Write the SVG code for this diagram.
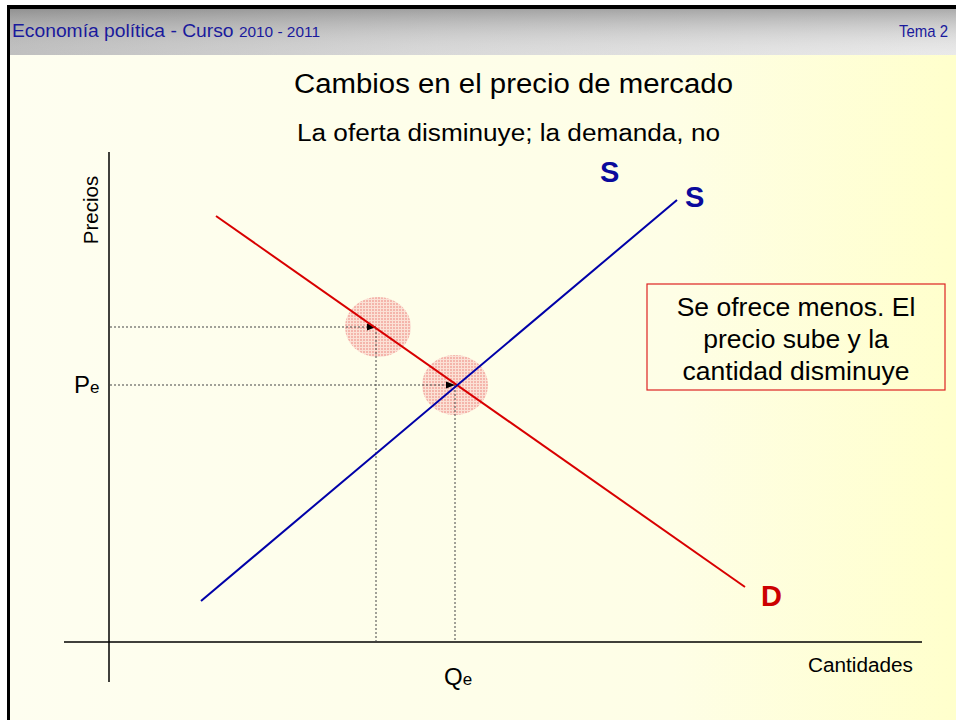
<svg xmlns="http://www.w3.org/2000/svg" width="956" height="720" viewBox="0 0 956 720">
<defs>
<linearGradient id="bg" x1="0" y1="0" x2="1" y2="0">
<stop offset="0" stop-color="#fefef0"/>
<stop offset="0.7" stop-color="#fefee6"/>
<stop offset="1" stop-color="#ffffcc"/>
</linearGradient>
<linearGradient id="hdrH" x1="0" y1="0" x2="1" y2="0">
<stop offset="0" stop-color="#b4b4b4"/>
<stop offset="0.45" stop-color="#d2d2d2"/>
<stop offset="1" stop-color="#e6e6e6"/>
</linearGradient>
<linearGradient id="hdrV" x1="0" y1="0" x2="0" y2="1">
<stop offset="0" stop-color="#707070" stop-opacity="0.5"/>
<stop offset="1" stop-color="#ffffff" stop-opacity="0.15"/>
</linearGradient>
<marker id="arr" viewBox="0 0 10 10" refX="10" refY="5" markerWidth="9" markerHeight="9" markerUnits="userSpaceOnUse" orient="auto">
<path d="M0,1 L10,5 L0,9 Z" fill="#000"/>
</marker>
<pattern id="dots" width="3" height="3" patternUnits="userSpaceOnUse">
<rect width="3" height="3" fill="#f9d4cc"/>
<rect width="2" height="2" fill="#ef9690"/>
</pattern>
<style>
text{font-family:"Liberation Sans",Arial,sans-serif;}
.dot{stroke:#444;stroke-width:1;stroke-dasharray:2,2;fill:none;}
.axis{stroke:#000;stroke-width:1.5;fill:none;}
.hl{fill:url(#dots);opacity:0.7;}
.lbl{font-size:29px;font-weight:bold;}
.note{font-size:26.5px;fill:#000;}
</style>
</defs>
<rect x="0" y="0" width="956" height="720" fill="#ffffff"/>
<rect x="10" y="9" width="946" height="711" fill="url(#bg)"/>
<g id="header">
<rect x="10" y="9" width="946" height="46" fill="url(#hdrH)"/>
<rect x="10" y="9" width="946" height="46" fill="url(#hdrV)"/>
<text x="12" y="37" font-size="17.5" fill="#1a1a9c" textLength="308" lengthAdjust="spacingAndGlyphs">Economía política - Curso <tspan font-size="14">2010 - 2011</tspan></text>
<text x="899" y="37" font-size="17" fill="#1a1a9c" textLength="49" lengthAdjust="spacingAndGlyphs">Tema 2</text>
</g>
<rect x="7" y="5" width="949" height="4" fill="#000"/>
<rect x="7" y="5" width="3" height="715" fill="#000"/>
<g id="title">
<text x="294" y="93" font-size="27" fill="#000" textLength="439" lengthAdjust="spacingAndGlyphs">Cambios en el precio de mercado</text>
<text x="297" y="141" font-size="23" fill="#000" textLength="423" lengthAdjust="spacingAndGlyphs">La oferta disminuye; la demanda, no</text>
</g>
<g id="highlights">
<ellipse class="hl" cx="378" cy="327" rx="33" ry="30"/>
<ellipse class="hl" cx="455" cy="385" rx="33" ry="30"/>
</g>
<g id="axes">
<line class="axis" x1="109" y1="152" x2="109" y2="682"/>
<line class="axis" x1="64" y1="642" x2="922" y2="642"/>
<text transform="translate(98,210) rotate(-90)" font-size="20.5" text-anchor="middle" fill="#000">Precios</text>
<text x="808" y="672" font-size="20" fill="#000" textLength="105" lengthAdjust="spacingAndGlyphs">Cantidades</text>
<text x="74" y="393" font-size="24" fill="#000">P<tspan font-size="17">e</tspan></text>
<text x="444" y="685" font-size="24" fill="#000">Q<tspan font-size="17">e</tspan></text>
</g>
<g id="connectors">
<line class="dot" x1="110" y1="327" x2="376" y2="327" marker-end="url(#arr)"/>
<line class="dot" x1="110" y1="385" x2="455" y2="385" marker-end="url(#arr)"/>
<line class="dot" x1="376" y1="328" x2="376" y2="641"/>
<line class="dot" x1="455" y1="386" x2="455" y2="641"/>
</g>
<g id="demand">
<line x1="216" y1="216" x2="745" y2="587" stroke="#d80000" stroke-width="2"/>
<text class="lbl" x="761" y="606" fill="#cc0000">D</text>
</g>
<g id="supply">
<line x1="201" y1="601" x2="677" y2="200" stroke="#0000a8" stroke-width="2"/>
<text class="lbl" x="685" y="207" fill="#0a0a9c">S</text>
</g>
<g id="supply2">
<text class="lbl" x="600" y="182" fill="#0a0a9c">S</text>
</g>
<g id="note">
<rect x="647" y="284" width="298" height="106" fill="none" stroke="#dd2222" stroke-width="1.2"/>
<text class="note" x="796" y="316" text-anchor="middle">Se ofrece menos. El</text>
<text class="note" x="796" y="348" text-anchor="middle">precio sube y la</text>
<text class="note" x="796" y="380" text-anchor="middle">cantidad disminuye</text>
</g>
</svg>
